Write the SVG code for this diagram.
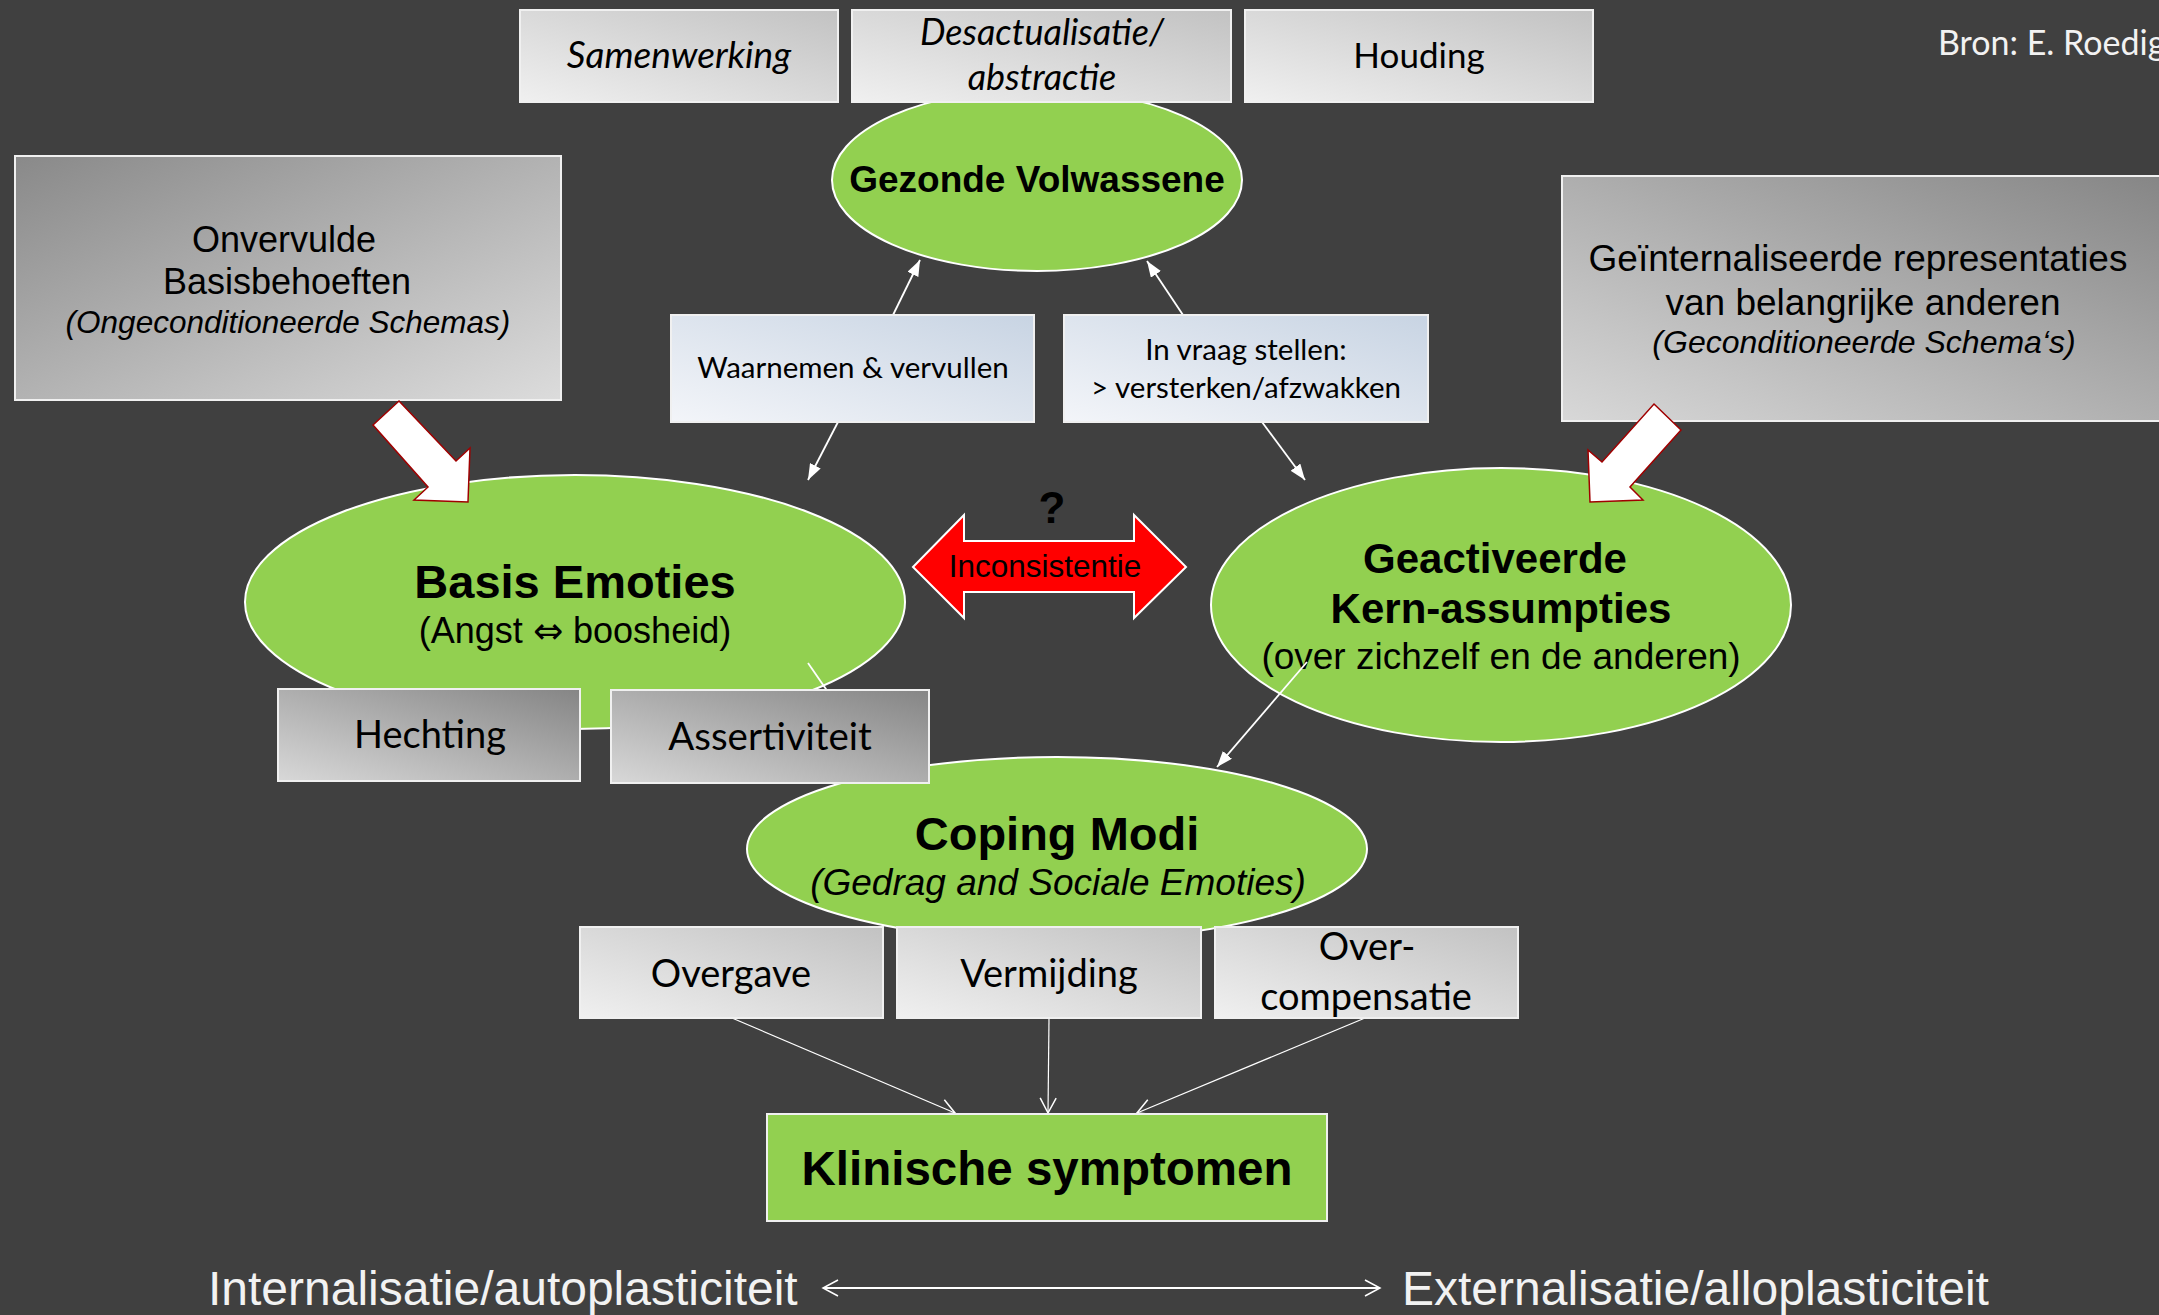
<svg xmlns="http://www.w3.org/2000/svg" width="2159" height="1315" viewBox="0 0 2159 1315">
<style>
.bg{fill:#404040}
.ell{fill:#92d050;stroke:#ffffff;stroke-width:2}
.box{stroke:#f0f0f0;stroke-width:2}
.ar{font-family:"Liberation Sans",Arial,sans-serif;fill:#000}
.arb{font-family:"Liberation Sans",Arial,sans-serif;font-weight:bold;fill:#000}
.cal{font-family:Lato,"Open Sans",sans-serif;fill:#000}
.wt{fill:#f2f2f2}
.conn{stroke:#ffffff;stroke-width:1.8;fill:none}
.thin{stroke:#ffffff;stroke-width:1.2;fill:none}
.blk{fill:#ffffff;stroke:#a00000;stroke-width:1.5}
</style>
<defs>
<linearGradient id="gLight" x1="0" y1="1" x2="1" y2="0">
<stop offset="0" stop-color="#f0f0f0"/><stop offset="1" stop-color="#c2c2c2"/>
</linearGradient>
<linearGradient id="gOnv" x1="0" y1="0" x2="1" y2="1">
<stop offset="0" stop-color="#898989"/><stop offset="1" stop-color="#dcdcdc"/>
</linearGradient>
<linearGradient id="gDark" x1="0" y1="1" x2="1" y2="0">
<stop offset="0" stop-color="#d8d8d8"/><stop offset="1" stop-color="#858585"/>
</linearGradient>
<linearGradient id="gBlue" x1="0" y1="1" x2="1" y2="0">
<stop offset="0" stop-color="#f3f5f9"/><stop offset="1" stop-color="#c8d4e3"/>
</linearGradient>
<marker id="ah" viewBox="0 0 16 12" refX="16" refY="6" markerWidth="16" markerHeight="12" markerUnits="userSpaceOnUse" orient="auto">
<path d="M0,0 L16,6 L0,12 z" fill="#ffffff"/>
</marker>
<marker id="ao" viewBox="-1 -1 18 18" refX="15" refY="8" markerWidth="18" markerHeight="18" markerUnits="userSpaceOnUse" orient="auto-start-reverse" overflow="visible">
<path d="M0,0 L15,8 L0,16" fill="none" stroke="#ffffff" stroke-width="1.5"/>
</marker>
</defs>
<rect class="bg" x="0" y="0" width="2159" height="1315"/>

<g id="gezonde-volwassene">
<ellipse class="ell" cx="1037" cy="180" rx="205" ry="91"/>
<text class="arb" x="1037" y="192" font-size="37" text-anchor="middle">Gezonde Volwassene</text>
</g>
<g id="basis-emoties">
<ellipse class="ell" cx="575" cy="602" rx="330" ry="127"/>
<text class="arb" x="575" y="598" font-size="47" text-anchor="middle">Basis Emoties</text>
<text class="ar" x="575" y="643" font-size="36" text-anchor="middle">(Angst <tspan font-family="DejaVu Sans" font-size="36">⇔</tspan> boosheid)</text>
</g>
<g id="geactiveerde-kern-assumpties">
<ellipse class="ell" cx="1501" cy="605" rx="290" ry="137"/>
<text class="arb" x="1495" y="573" font-size="42" text-anchor="middle">Geactiveerde</text>
<text class="arb" x="1501" y="623" font-size="42" text-anchor="middle">Kern-assumpties</text>
<text class="ar" x="1501" y="669" font-size="37" text-anchor="middle">(over zichzelf en de anderen)</text>
</g>
<g id="coping-modi">
<ellipse class="ell" cx="1057" cy="849" rx="310" ry="92"/>
<text class="arb" x="1057" y="850" font-size="47" text-anchor="middle">Coping Modi</text>
<text class="ar" x="1058" y="895" font-size="37" font-style="italic" text-anchor="middle">(Gedrag and Sociale Emoties)</text>
</g>

<g id="connectors">
<line class="conn" x1="893" y1="315" x2="920" y2="260" marker-end="url(#ah)"/>
<line class="conn" x1="1183" y1="315" x2="1147" y2="261" marker-end="url(#ah)"/>
<line class="conn" x1="838" y1="422" x2="808" y2="480" marker-end="url(#ah)"/>
<line class="conn" x1="1262" y1="422" x2="1305" y2="480" marker-end="url(#ah)"/>
<line class="conn" x1="1307" y1="662" x2="1217" y2="767" marker-end="url(#ah)"/>
<line class="conn" x1="808" y1="663" x2="828" y2="692"/>
<line class="thin" x1="732" y1="1018" x2="955" y2="1113" marker-end="url(#ao)"/>
<line class="thin" x1="1049" y1="1018" x2="1048" y2="1113" marker-end="url(#ao)"/>
<line class="thin" x1="1365" y1="1018" x2="1137" y2="1113" marker-end="url(#ao)"/>
<line class="conn" x1="823" y1="1288" x2="1380" y2="1288" marker-start="url(#ao)" marker-end="url(#ao)"/>
</g>

<g id="samenwerking">
<rect class="box" x="520" y="10" width="318" height="92" fill="url(#gLight)"/>
<text class="cal" x="679" y="68" font-size="37" font-style="italic" text-anchor="middle">Samenwerking</text>
</g>
<g id="desactualisatie">
<rect class="box" x="852" y="10" width="379" height="92" fill="url(#gLight)"/>
<text class="cal" x="1042" y="45" font-size="36" font-style="italic" text-anchor="middle">Desactualisatie/</text>
<text class="cal" x="1042" y="90" font-size="36" font-style="italic" text-anchor="middle">abstractie</text>
</g>
<g id="houding">
<rect class="box" x="1245" y="10" width="348" height="92" fill="url(#gLight)"/>
<text class="cal" x="1419" y="68" font-size="35" text-anchor="middle">Houding</text>
</g>
<g id="bron">
<text class="cal wt" x="1938" y="55" font-size="34">Bron: E. Roedig</text>
</g>

<g id="onvervulde-basisbehoeften">
<rect class="box" x="15" y="156" width="546" height="244" fill="url(#gOnv)"/>
<text class="ar" x="284" y="252" font-size="36" text-anchor="middle">Onvervulde</text>
<text class="ar" x="287" y="294" font-size="36" text-anchor="middle">Basisbehoeften</text>
<text class="ar" x="288" y="333" font-size="31.5" font-style="italic" text-anchor="middle">(Ongeconditioneerde Schemas)</text>
</g>
<g id="geinternaliseerde-representaties">
<rect class="box" x="1562" y="176" width="610" height="245" fill="url(#gDark)"/>
<text class="ar" x="1858" y="271" font-size="37" text-anchor="middle">Geïnternaliseerde representaties</text>
<text class="ar" x="1863" y="315" font-size="37" text-anchor="middle">van belangrijke anderen</text>
<text class="ar" x="1864" y="353" font-size="32" font-style="italic" text-anchor="middle">(Geconditioneerde Schema‘s)</text>
</g>

<g id="waarnemen-vervullen">
<rect class="box" x="671" y="315" width="363" height="107" fill="url(#gBlue)"/>
<text class="cal" x="853" y="378" font-size="29.5" text-anchor="middle">Waarnemen &amp; vervullen</text>
</g>
<g id="in-vraag-stellen">
<rect class="box" x="1064" y="315" width="364" height="107" fill="url(#gBlue)"/>
<text class="cal" x="1246" y="360" font-size="29.5" text-anchor="middle">In vraag stellen:</text>
<text class="cal" x="1246" y="398" font-size="29.5" text-anchor="middle">&gt; versterken/afzwakken</text>
</g>

<g id="hechting">
<rect class="box" x="278" y="689" width="302" height="92" fill="url(#gDark)"/>
<text class="cal" x="430" y="748" font-size="38" text-anchor="middle">Hechting</text>
</g>
<g id="assertiviteit">
<rect class="box" x="611" y="690" width="318" height="93" fill="url(#gDark)"/>
<text class="cal" x="770" y="750" font-size="38.5" text-anchor="middle">Assertiviteit</text>
</g>

<g id="overgave">
<rect class="box" x="580" y="927" width="303" height="91" fill="url(#gLight)"/>
<text class="cal" x="731" y="987" font-size="38" text-anchor="middle">Overgave</text>
</g>
<g id="vermijding">
<rect class="box" x="897" y="927" width="304" height="91" fill="url(#gLight)"/>
<text class="cal" x="1049" y="987" font-size="38" text-anchor="middle">Vermijding</text>
</g>
<g id="overcompensatie">
<rect class="box" x="1215" y="927" width="303" height="91" fill="url(#gLight)"/>
<text class="cal" x="1367" y="960" font-size="38" text-anchor="middle">Over-</text>
<text class="cal" x="1366" y="1010" font-size="38" text-anchor="middle">compensatie</text>
</g>

<g id="klinische-symptomen">
<rect x="767" y="1114" width="560" height="107" fill="#92d050" stroke="#f0f0f0" stroke-width="2"/>
<text class="arb" x="1047" y="1185" font-size="47.5" text-anchor="middle">Klinische symptomen</text>
</g>

<g id="inconsistentie">
<polygon points="913,567 964,515 964,541 1134,541 1134,515 1186,567 1134,618 1134,592 964,592 964,618" fill="#ff0000" stroke="#ffffff" stroke-width="2"/>
<text class="ar" x="1045" y="577" font-size="31.5" text-anchor="middle">Inconsistentie</text>
<text class="arb" x="1052" y="523" font-size="44" text-anchor="middle">?</text>
</g>

<g id="arrow-onvervulde">
<polygon class="blk" points="399,401 456,461 470,448 468,502 414,500 428,487 373,425"/>
</g>
<g id="arrow-geinternaliseerde">
<polygon class="blk" points="1654,404 1681,430 1630,487 1643,500 1590,502 1588,450 1602,462"/>
</g>

<g id="axis-labels">
<text class="ar wt" x="208" y="1305" font-size="48">Internalisatie/autoplasticiteit</text>
<text class="ar wt" x="1402" y="1305" font-size="48">Externalisatie/alloplasticiteit</text>
</g>
</svg>
